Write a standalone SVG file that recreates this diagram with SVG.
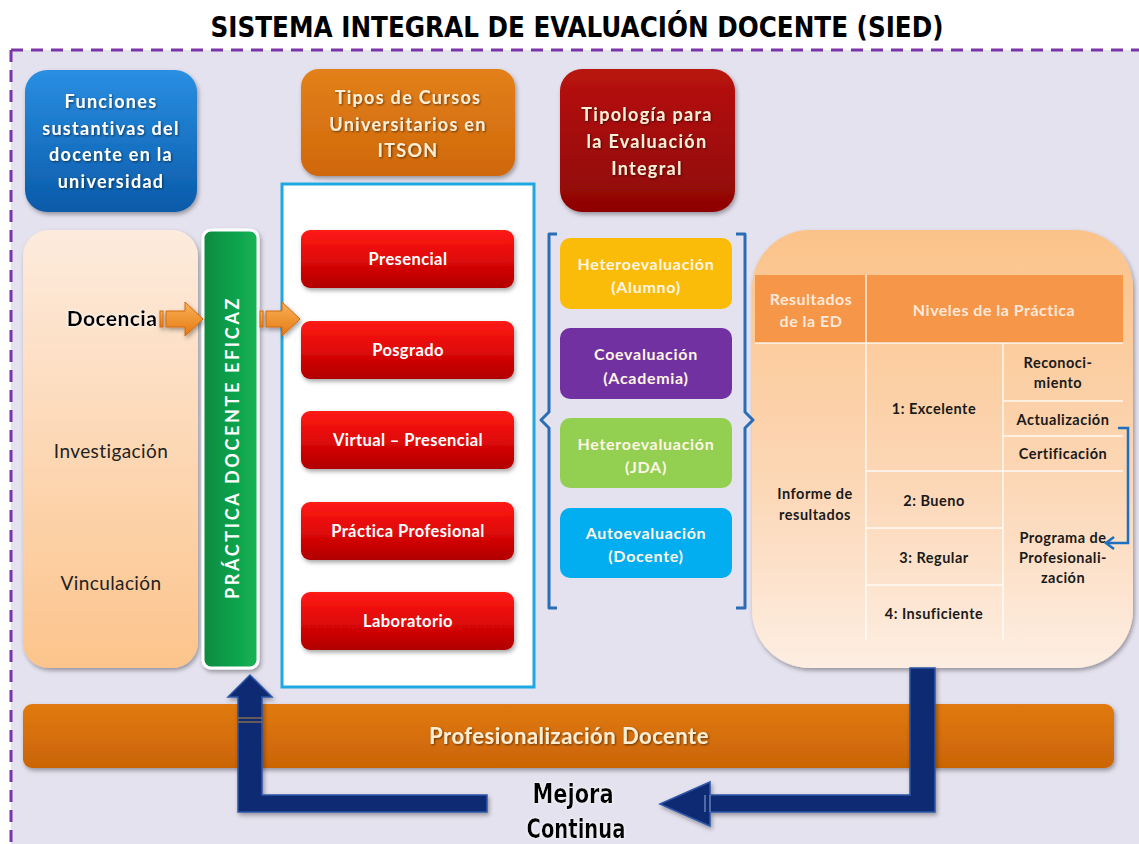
<svg xmlns="http://www.w3.org/2000/svg" width="1139" height="844" viewBox="0 0 1139 844">
<defs>
<linearGradient id="gBlue" x1="0" y1="0" x2="0" y2="1"><stop offset="0" stop-color="#2a8fe2"/><stop offset="1" stop-color="#0a5aa9"/></linearGradient>
<linearGradient id="gOrange" x1="0" y1="0" x2="0" y2="1"><stop offset="0" stop-color="#e3801a"/><stop offset="1" stop-color="#cf680b"/></linearGradient>
<linearGradient id="gDark" x1="0" y1="0" x2="0" y2="1"><stop offset="0" stop-color="#b8130f"/><stop offset="1" stop-color="#8e0505"/></linearGradient>
<linearGradient id="gRed" x1="0" y1="0" x2="0" y2="1"><stop offset="0" stop-color="#ff1b16"/><stop offset="0.5" stop-color="#e00808"/><stop offset="1" stop-color="#b00000"/></linearGradient>
<linearGradient id="gPeachL" x1="0" y1="0" x2="0" y2="1"><stop offset="0" stop-color="#fdebdd"/><stop offset="1" stop-color="#fcc48c"/></linearGradient>
<linearGradient id="gPeachR" x1="0" y1="0" x2="0" y2="1"><stop offset="0" stop-color="#fbc38a"/><stop offset="0.6" stop-color="#fcd8b8"/><stop offset="1" stop-color="#fdeee2"/></linearGradient>
<linearGradient id="gGreen" x1="0" y1="0" x2="1" y2="0"><stop offset="0" stop-color="#0a8a3f"/><stop offset="0.5" stop-color="#0f9f4a"/><stop offset="1" stop-color="#14b355"/></linearGradient>
<linearGradient id="gArrow" x1="0" y1="0" x2="0" y2="1"><stop offset="0" stop-color="#f9b25a"/><stop offset="1" stop-color="#e57910"/></linearGradient>
<linearGradient id="gBar" x1="0" y1="0" x2="0" y2="1"><stop offset="0" stop-color="#e07a12"/><stop offset="0.5" stop-color="#d66f08"/><stop offset="1" stop-color="#c96406"/></linearGradient>
<filter id="sh" x="-10%" y="-10%" width="125%" height="125%"><feDropShadow dx="1.5" dy="2.5" stdDeviation="2" flood-color="#000" flood-opacity="0.35"/></filter>
<filter id="tsh" x="-10%" y="-30%" width="120%" height="160%"><feDropShadow dx="1" dy="1" stdDeviation="0.8" flood-color="#000" flood-opacity="0.55"/></filter>
<filter id="glow" x="-10%" y="-30%" width="120%" height="160%"><feDropShadow dx="0" dy="0" stdDeviation="1.5" flood-color="#fff" flood-opacity="1"/></filter>
<style>
.t{font-family:Lato,"DejaVu Sans",sans-serif;font-weight:bold;text-anchor:middle}
.w{fill:#ffffff}
.cr{fill:#fdeed6}
.hd{font-size:18px;letter-spacing:1.3px}
.btn{font-size:16.5px;letter-spacing:0.4px;fill:#ffffff}
.ev{font-size:16px;letter-spacing:0.7px;fill:#fff6e6}
.tb{font-size:14.5px;letter-spacing:0.5px;fill:#1a1a1a}
.th{font-size:16px;letter-spacing:0.5px;fill:#fde9d9}
.lf{font-family:Lato,"DejaVu Sans",sans-serif;font-size:19px;letter-spacing:0.4px;text-anchor:middle;fill:#222}
.cell{stroke:#ffffff;stroke-width:1.5;stroke-opacity:0.85;fill:none}
.navy{fill:#0f2c72;stroke:#2c55a8;stroke-width:1.5}
.brk{fill:none;stroke:#2a6db5;stroke-width:3;stroke-linejoin:round}
.imp{font-family:"DejaVu Sans Condensed","DejaVu Sans",sans-serif;font-stretch:condensed;font-weight:900;text-anchor:middle;fill:#000}
</style>
</defs>

<!-- background -->
<rect x="0" y="0" width="1139" height="844" fill="#ffffff"/>
<rect x="11" y="50" width="1128" height="794" fill="#e5e2ef"/>
<path d="M11 50 H1139 M11 50 V844" fill="none" stroke="#7a35a8" stroke-width="3" stroke-dasharray="12,8"/>

<text x="577" y="37" class="imp" font-size="29" textLength="733" lengthAdjust="spacingAndGlyphs">SISTEMA INTEGRAL DE EVALUACIÓN DOCENTE (SIED)</text>

<g id="funciones">
<rect x="25" y="70" width="172" height="142" rx="22" fill="url(#gBlue)" filter="url(#sh)"/>
<g class="t w hd" filter="url(#tsh)">
<text x="111" y="108">Funciones</text>
<text x="111" y="135">sustantivas del</text>
<text x="111" y="161">docente en la</text>
<text x="111" y="188">universidad</text>
</g>
</g>

<g id="tipos-cursos">
<rect x="301" y="69" width="214" height="107" rx="18" fill="url(#gOrange)" filter="url(#sh)"/>
<g class="t cr hd" filter="url(#tsh)">
<text x="408" y="104">Tipos de Cursos</text>
<text x="408" y="131">Universitarios en</text>
<text x="408" y="157">ITSON</text>
</g>
</g>

<g id="tipologia">
<rect x="560" y="69" width="175" height="143" rx="22" fill="url(#gDark)" filter="url(#sh)"/>
<g class="t cr hd" filter="url(#tsh)">
<text x="647" y="121">Tipología para</text>
<text x="647" y="148">la Evaluación</text>
<text x="647" y="175">Integral</text>
</g>
</g>

<g id="funciones-lista">
<rect x="23" y="230" width="175" height="438" rx="26" fill="url(#gPeachL)" filter="url(#sh)"/>
<text x="112" y="326" font-family="Lato,'DejaVu Sans',sans-serif" font-weight="900" font-size="21" letter-spacing="0.4" text-anchor="middle" fill="#000" filter="url(#glow)">Docencia</text>
<text x="111" y="458" class="lf">Investigación</text>
<text x="111" y="590" class="lf">Vinculación</text>
</g>

<g id="practica-eficaz">
<rect x="203" y="230" width="55" height="438" rx="8" fill="url(#gGreen)" stroke="#ffffff" stroke-width="3" filter="url(#sh)"/>
<text x="232" y="455" class="t w" font-size="18" letter-spacing="1.5" transform="rotate(-90 232 448)" textLength="302" lengthAdjust="spacing">PRÁCTICA  DOCENTE EFICAZ</text>
</g>

<g id="cursos">
<rect x="282" y="184" width="252" height="503" fill="#ffffff" stroke="#1ea8e2" stroke-width="3"/>
<g filter="url(#sh)">
<rect x="301" y="230" width="213" height="58" rx="9" fill="url(#gRed)"/>
<rect x="301" y="321" width="213" height="58" rx="9" fill="url(#gRed)"/>
<rect x="301" y="411" width="213" height="58" rx="9" fill="url(#gRed)"/>
<rect x="301" y="502" width="213" height="58" rx="9" fill="url(#gRed)"/>
<rect x="301" y="592" width="213" height="58" rx="9" fill="url(#gRed)"/>
</g>
<g class="t btn">
<text x="408" y="265">Presencial</text>
<text x="408" y="356">Posgrado</text>
<text x="408" y="446">Virtual – Presencial</text>
<text x="408" y="537">Práctica  Profesional</text>
<text x="408" y="627">Laboratorio</text>
</g>
</g>

<g id="evaluaciones">
<rect x="560" y="238" width="172" height="71" rx="10" fill="#fbbc09"/>
<rect x="560" y="328" width="172" height="71" rx="10" fill="#7131a0"/>
<rect x="560" y="418" width="172" height="70" rx="10" fill="#93cf51"/>
<rect x="560" y="508" width="172" height="70" rx="10" fill="#02aeef"/>
<g class="t ev">
<text x="646" y="270">Heteroevaluación</text>
<text x="646" y="293">(Alumno)</text>
<text x="646" y="360">Coevaluación</text>
<text x="646" y="384">(Academia)</text>
<text x="646" y="450">Heteroevaluación</text>
<text x="646" y="473">(JDA)</text>
<text x="646" y="539">Autoevaluación</text>
<text x="646" y="562">(Docente)</text>
</g>
</g>

<g id="resultados">
<rect x="752" y="230" width="381" height="438" rx="58" fill="url(#gPeachR)" filter="url(#sh)"/>
<rect x="755" y="275" width="368" height="68" fill="#f69649"/>
<path class="cell" d="M866 275 V640 M1003 343 V640 M755 343 H1123 M866 471 H1123 M866 528 H1003 M866 585 H1003 M1003 401 H1123 M1003 436 H1123"/>
<g class="t th">
<text x="811" y="305">Resultados</text>
<text x="811" y="327">de la ED</text>
<text x="994" y="316">Niveles de la Práctica</text>
</g>
<g class="t tb">
<text x="1058" y="368">Reconoci-</text>
<text x="1058" y="388">miento</text>
<text x="934" y="414">1: Excelente</text>
<text x="1063" y="425">Actualización</text>
<text x="1063" y="459">Certificación</text>
<text x="815" y="499">Informe de</text>
<text x="815" y="520">resultados</text>
<text x="934" y="506">2: Bueno</text>
<text x="934" y="563">3: Regular</text>
<text x="934" y="619">4: Insuficiente</text>
<text x="1063" y="543">Programa de</text>
<text x="1063" y="563">Profesionali-</text>
<text x="1063" y="583">zación</text>
</g>
</g>

<g id="profesionalizacion">
<rect x="23" y="704" width="1091" height="64" rx="9" fill="url(#gBar)" filter="url(#sh)"/>
<text x="569" y="744" class="t" font-size="22" letter-spacing="0.5" fill="#fdeed6" filter="url(#tsh)">Profesionalización  Docente</text>
</g>

<g id="mejora">
<text x="573" y="803" class="imp" font-size="26" textLength="81" lengthAdjust="spacingAndGlyphs" filter="url(#glow)">Mejora</text>
<text x="576" y="838" class="imp" font-size="26" textLength="99" lengthAdjust="spacingAndGlyphs" filter="url(#glow)">Continua</text>
</g>

<g id="connectors">
<!-- orange arrows -->
<g fill="url(#gArrow)" stroke="#d06a10" stroke-width="1" filter="url(#sh)">
<path d="M166 311 H185 V302 L203 319 L185 336 V327 H166 Z"/>
<rect x="160" y="311" width="3" height="16"/>
<path d="M266 311 H282 V302 L300 319 L282 336 V327 H266 Z"/>
<rect x="260" y="311" width="3" height="16"/>
</g>
<!-- brackets -->
<path class="brk" d="M557 234 H549 V412 L541 420 L549 428 V608 H557"/>
<path class="brk" d="M736 234 H745 V412 L753 420 L745 428 V608 H736"/>
<!-- blue return arrow in table -->
<path d="M1118 428 H1128 V543 H1108" fill="none" stroke="#1f6fc0" stroke-width="2.5"/>
<path d="M1114 537 L1106 543 L1114 549" fill="none" stroke="#1f6fc0" stroke-width="2.5"/>
<!-- navy improvement loop -->
<path class="navy" d="M910 668 H935 V812 H710 V826 L660 804 L710 782 V795 H910 Z" filter="url(#sh)"/>
<path d="M710 795 V812 M705 795 V812" stroke="#7d96cc" stroke-width="1.2"/>
<path class="navy" d="M487 795 V812 H238 V697 H228 L250 675 L272 697 H262 V795 Z" filter="url(#sh)"/>
<path d="M238 718 H262 M238 722 H262" stroke="#c08a40" stroke-width="1.2"/>
</g>
</svg>
